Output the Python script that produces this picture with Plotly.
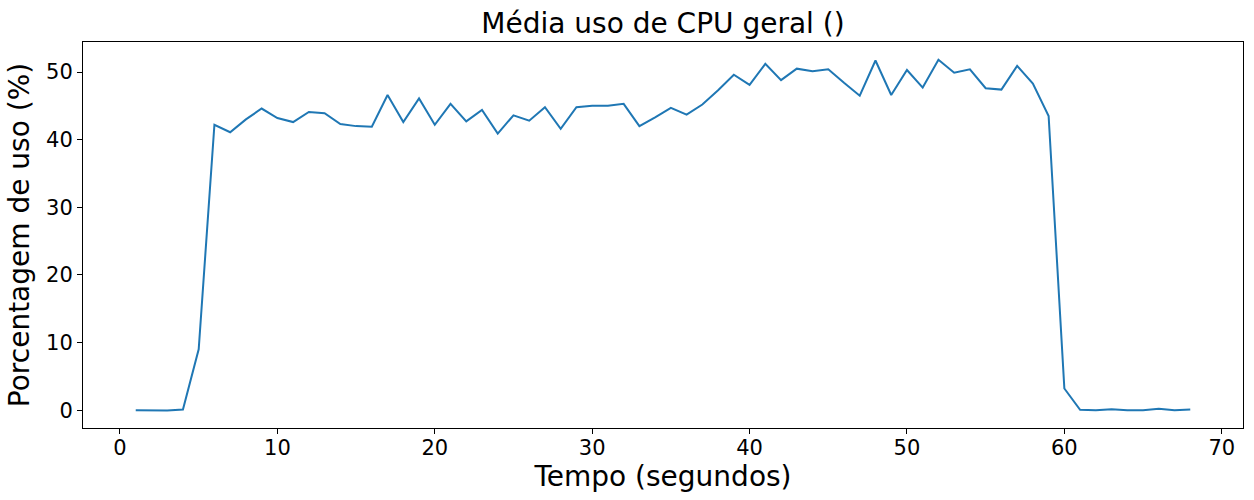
import plotly.graph_objects as go

tempo = list(range(1, 69))
uso_cpu = [0.0, 0.0, -0.05, 0.1, 9.0, 42.2, 41.1, 43.0, 44.6, 43.2,
           42.6, 44.1, 43.9, 42.3, 42.0, 41.9, 46.6, 42.6, 46.1, 42.2,
           45.3, 42.7, 44.4, 40.9, 43.6, 42.8, 44.8, 41.6, 44.8, 45.0,
           45.0, 45.3, 42.0, 43.3, 44.7, 43.7, 45.2, 47.3, 49.6, 48.1,
           51.2, 48.8, 50.5, 50.1, 50.4, 48.4, 46.5, 51.7, 46.6, 50.3,
           47.7, 51.8, 49.9, 50.4, 47.6, 47.4, 50.9, 48.3, 43.5, 3.2,
           0.05, 0.0, 0.15, 0.0, 0.0, 0.2, 0.0, 0.1]
x_ticks = [0, 10, 20, 30, 40, 50, 60, 70]
y_ticks = [0, 10, 20, 30, 40, 50]

fig = go.Figure(go.Scatter(x=tempo, y=uso_cpu, mode="lines",
                           line=dict(color="#1f77b4", width=2)))

font = "DejaVu Sans, sans-serif"
axis_common = dict(showline=True, linecolor="black", linewidth=1, mirror=True,
                   ticks="outside", ticklen=5, tickcolor="black", tickwidth=1,
                   showgrid=False, zeroline=False,
                   tickfont=dict(family=font, size=21, color="black"))

fig.update_layout(
    width=1254, height=500,
    margin=dict(l=83, r=11, t=42, b=72),
    plot_bgcolor="white", paper_bgcolor="white",
    showlegend=False,
    title=dict(text="Média uso de CPU geral ()", x=0.5, xanchor="center",
               xref="paper", y=1 - 23 / 500, yanchor="middle",
               font=dict(family=font, size=28, color="black")),
    xaxis=dict(range=[-2.35, 71.35], tickvals=x_ticks, ticklabelstandoff=-4,
               title=dict(text="Tempo (segundos)", standoff=2,
                          font=dict(family=font, size=28, color="black")),
               **axis_common),
    yaxis=dict(range=[-2.64, 54.44], tickvals=y_ticks,
               title=dict(text="Porcentagem de uso (%)", standoff=8,
                          font=dict(family=font, size=28, color="black")),
               **axis_common),
)

fig.write_html("out.html")
